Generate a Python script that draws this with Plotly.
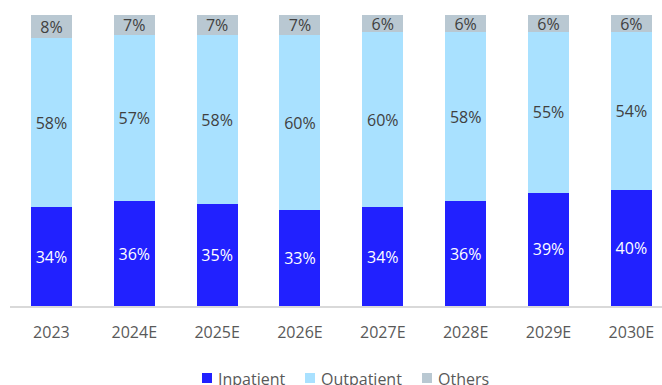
import plotly.graph_objects as go

years = ["2023", "2024E", "2025E", "2026E", "2027E", "2028E", "2029E", "2030E"]
inpatient = [34, 36, 35, 33, 34, 36, 39, 40]
outpatient = [58, 57, 58, 60, 60, 58, 55, 54]
others = [8, 7, 7, 7, 6, 6, 6, 6]

FONT = "Open Sans"
series = [
    ("Inpatient", inpatient, "#2121FF", "#FFFFFF"),
    ("Outpatient", outpatient, "#A9E1FF", "#404040"),
    ("Others", others, "#B9C8D2", "#404040"),
]

W, H = 662, 385
ML, MR, MT, MB = 10, 0, 15, 79
PW, PH = W - ML - MR, H - MT - MB


def px_x(x):
    return (x - ML) / PW


def px_y(y):
    return (H - MB - y) / PH


fig = go.Figure()
for name, vals, color, tcolor in series:
    fig.add_trace(go.Bar(
        x=years, y=vals, name=name,
        marker=dict(color=color, line=dict(width=0)),
        width=0.495,
        text=[f"{v}%" for v in vals],
        textposition="inside",
        insidetextanchor="middle",
        textangle=0,
        constraintext="none",
        textfont=dict(family=FONT, size=16, color=tcolor),
        hoverinfo="skip",
        showlegend=False,
    ))

# legend row below the axis: square swatch + label for each series
legend_x = [202, 305, 422]
for (name, _, color, _), lx in zip(series, legend_x):
    fig.add_shape(
        type="rect", xref="paper", yref="paper",
        x0=px_x(lx), x1=px_x(lx + 10), y0=px_y(383), y1=px_y(373),
        fillcolor=color, line=dict(width=0),
    )
    fig.add_annotation(
        xref="paper", yref="paper", x=px_x(lx + 14), y=px_y(379),
        xanchor="left", yanchor="middle", showarrow=False,
        text=name, font=dict(family=FONT, size=16, color="#595959"),
    )

fig.update_layout(
    barmode="stack",
    width=W, height=H,
    margin=dict(l=ML, r=MR, t=MT, b=MB, autoexpand=False),
    plot_bgcolor="white", paper_bgcolor="white",
    showlegend=False,
    xaxis=dict(
        type="category", range=[-0.5, 7.37],
        showline=True, linecolor="#D9D9D9", linewidth=2,
        showgrid=False, ticks="outside", ticklen=11, tickcolor="rgba(0,0,0,0)",
        tickfont=dict(family=FONT, size=16, color="#595959"),
    ),
    yaxis=dict(range=[0, 100], visible=False, showgrid=False, zeroline=False),
)

fig.write_html("out.html")
